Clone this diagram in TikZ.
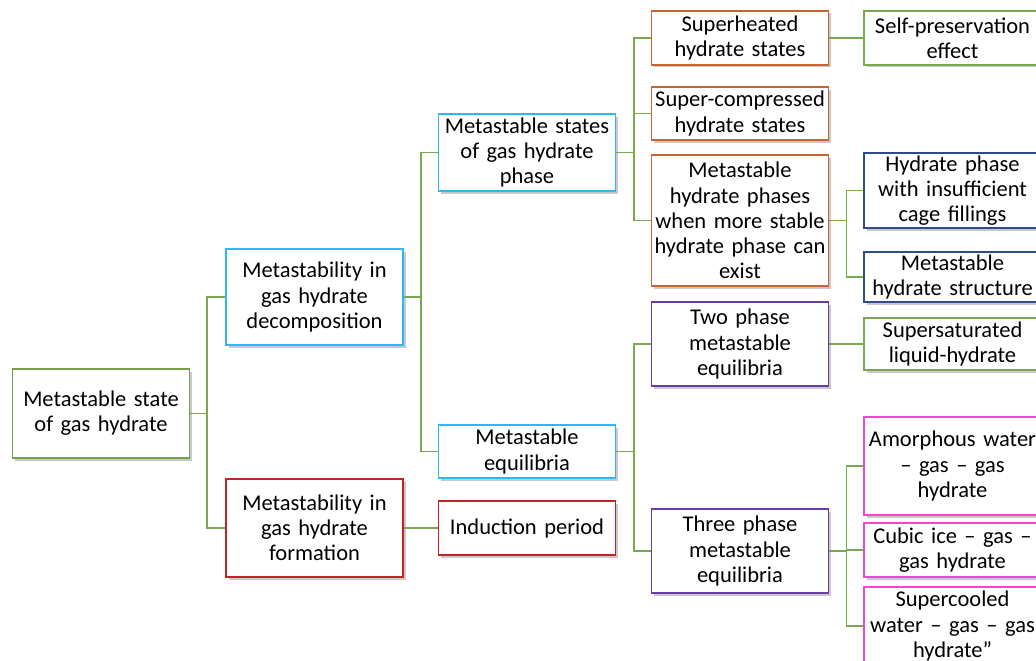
\documentclass[tikz,border=0pt]{standalone}
\usepackage{fontspec}
\setmainfont{Carlito}
\usepackage{xcolor}
\usetikzlibrary{shadows}

\definecolor{linkgreen}{RGB}{122,168,78}
\definecolor{rootgreen}{RGB}{119,160,70}
\definecolor{boxcyan}{RGB}{45,185,240}
\definecolor{boxred}{RGB}{192,36,40}
\definecolor{boxorange}{RGB}{200,100,50}
\definecolor{boxnavy}{RGB}{47,75,140}
\definecolor{boxpurple}{RGB}{105,60,160}
\definecolor{boxpink}{RGB}{240,70,210}

\begin{document}
\begin{tikzpicture}[x=1pt, y=-1pt,
    box/.style={draw, line width=1.1pt, fill=white, align=center,
        text width=175pt, minimum width=177pt, inner sep=1pt,
        font=\fontsize{22.5}{25.2}\selectfont,
        drop shadow={shadow xshift=2.5pt, shadow yshift=-2.5pt, opacity=0.3, fill=black!70}},
    link/.style={draw=linkgreen, line width=1.3pt}]

    \path[use as bounding box, clip] (0,0) rectangle (1036,661);

    % Root
    \node[box, draw=rootgreen, minimum height=89pt] (root) at (101,413.5) {Metastable state\\of gas hydrate};

    % Level 1
    \node[box, draw=boxcyan, minimum height=96pt] (decomp) at (314.5,297) {Metastability in\\gas hydrate\\decomposition};
    \node[box, draw=boxred, minimum height=98pt] (form) at (314.5,528) {Metastability in\\gas hydrate\\formation};

    % Level 2
    \node[box, draw=boxcyan, minimum height=77pt] (states) at (527,152.5) {Metastable states\\of gas hydrate\\phase};
    \node[box, draw=boxcyan, minimum height=53pt] (equil) at (527,451.5) {Metastable\\equilibria};
    \node[box, draw=boxred, minimum height=54pt] (induct) at (527,528) {Induction period};

    % Level 3
    \node[box, draw=boxorange, minimum height=54pt] (superheat) at (740,38) {Superheated\\hydrate states};
    \node[box, draw=boxorange, minimum height=53pt] (supercomp) at (740,113.5) {Super-compressed\\hydrate states};
    \node[box, draw=boxorange, minimum height=131pt] (morestable) at (740,220.5) {Metastable\\hydrate phases\\when more stable\\hydrate phase can\\exist};
    \node[box, draw=boxpurple, minimum height=84pt] (twophase) at (740,344) {Two phase\\metastable\\equilibria};
    \node[box, draw=boxpurple, minimum height=84pt] (threephase) at (740,551) {Three phase\\metastable\\equilibria};

    % Level 4
    \node[box, draw=linkgreen, minimum height=54pt] (selfpres) at (952.5,38) {Self-preservation\\effect};
    \node[box, draw=boxnavy, minimum height=75pt] (cagefill) at (952.5,190.5) {Hydrate phase\\with insufficient\\cage fillings};
    \node[box, draw=boxnavy, minimum height=50pt] (metastruct) at (952.5,277) {Metastable\\hydrate structure};
    \node[box, draw=linkgreen, minimum height=52pt] (supersat) at (952.5,344) {Supersaturated\\liquid-hydrate};
    \node[box, draw=boxpink, minimum height=98pt] (amorph) at (952.5,466) {Amorphous water\\-- gas -- gas\\hydrate};
    \node[box, draw=boxpink, minimum height=54pt] (cubic) at (952.5,550) {Cubic ice -- gas --\\gas hydrate};
    \node[box, draw=boxpink, minimum height=78pt] (supercool) at (952.5,626) {Supercooled\\water -- gas -- gas\\hydrate''};

    % Connectors
    \foreach \c in {decomp,form}
        \draw[link] (root.east) -- ++(17,0) |- (\c.west);
    \foreach \c in {states,equil}
        \draw[link] (decomp.east) -- ++(17.5,0) |- (\c.west);
    \draw[link] (form.east) -- (induct.west);
    \foreach \c in {superheat,supercomp,morestable}
        \draw[link] (states.east) -- ++(18,0) |- (\c.west);
    \foreach \c in {twophase,threephase}
        \draw[link] (equil.east) -- ++(18,0) |- (\c.west);
    \draw[link] (superheat.east) -- (selfpres.west);
    \foreach \c in {cagefill,metastruct}
        \draw[link] (morestable.east) -- ++(17.5,0) |- (\c.west);
    \draw[link] (twophase.east) -- (supersat.west);
    \foreach \c in {amorph,cubic,supercool}
        \draw[link] (threephase.east) -- ++(17.5,0) |- (\c.west);
\end{tikzpicture}
\end{document}
